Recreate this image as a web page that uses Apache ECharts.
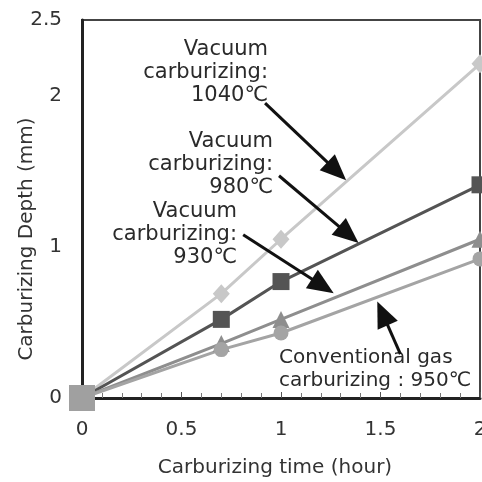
<!DOCTYPE html>
<html>
<head>
<meta charset="utf-8">
<script src="https://cdn.jsdelivr.net/npm/echarts@6.0.0/dist/echarts.min.js"></script>
<style>
  html, body { margin: 0; padding: 0; background: #fff; }
  #chart { width: 482px; height: 482px; }
</style>
</head>
<body>
<div id="chart"></div>
<script>
// 数据
const timeHours = [0, 0.7, 1, 2];
const depthVac1040 = [0, 0.69, 1.05, 2.21];
const depthVac980 = [0, 0.52, 0.77, 1.41];
const depthVac930 = [0, 0.36, 0.52, 1.05];
const depthGas950 = [0, 0.32, 0.43, 0.92];

const yTickLabels = ['0', '', '1', '', '2', '2.5'];

// 注释箭头 (数据坐标), 箭头三角形中心点
const arrowTails = [[0.92, 1.95], [0.99, 1.47], [0.81, 1.08], [1.60, 0.29]];
const arrowTips = [[1.28, 1.50], [1.34, 1.08], [1.21, 0.74], [1.51, 0.56]];

const noteTexts = [
  'Vacuum\ncarburizing:\n1040℃',
  'Vacuum\ncarburizing:\n980℃',
  'Vacuum\ncarburizing:\n930℃',
  'Conventional gas\ncarburizing : 950℃',
];

const FONT = 'DejaVu Sans';

function pairs(ys) {
  return timeHours.map(function (t, i) { return [t, ys[i]]; });
}

function lineSeries(name, ys, color, symbol, size) {
  return {
    name: name,
    type: 'line',
    data: pairs(ys),
    symbol: symbol,
    symbolSize: size,
    showAllSymbol: true,
    lineStyle: { color: color, width: 3 },
    itemStyle: { color: color },
    silent: true,
    animation: false,
  };
}

var myChart = echarts.init(document.getElementById('chart'));

var gasSeries = lineSeries('gas950', depthGas950, '#a4a4a4', 'circle', 15);
// 原点处的大方块
gasSeries.data[0] = {
  value: gasSeries.data[0],
  symbol: 'rect',
  symbolSize: 26,
  itemStyle: { color: '#a0a0a0' },
};

var arrowLines = arrowTails.map(function (tail, i) {
  return [{ coord: tail }, { coord: arrowTips[i] }];
});

var noteStyle = {
  font: '21px "' + FONT + '"',
  fill: '#2a2a2a',
  lineHeight: 23,
};

var option = {
  backgroundColor: '#fff',
  animation: false,
  grid: {
    left: 82, right: 2, top: 20, bottom: 84,
    outerBoundsMode: 'none',
    containLabel: false,
    show: true,
    borderColor: '#444',
    borderWidth: 2,
  },
  xAxis: {
    type: 'value',
    min: 0,
    max: 2,
    interval: 0.5,
    axisLine: { show: true, onZero: false, lineStyle: { color: '#222', width: 3 } },
    axisTick: { show: true, inside: true, length: 6, lineStyle: { color: '#555' } },
    minorTick: { show: true, splitNumber: 5, length: 5, lineStyle: { color: '#777' } },
    splitLine: { show: false },
    axisLabel: {
      margin: 22,
      fontSize: 20,
      fontFamily: FONT,
      color: '#333',
      showMaxLabel: true,
      hideOverlap: false,
      formatter: function (v) { return String(v); },
    },
  },
  yAxis: {
    type: 'value',
    min: 0,
    max: 2.5,
    interval: 0.5,
    axisLine: { show: true, onZero: false, lineStyle: { color: '#222', width: 3 } },
    axisTick: { show: false },
    splitLine: { show: false },
    axisLabel: {
      margin: 20,
      fontSize: 20,
      fontFamily: FONT,
      color: '#333',
      showMaxLabel: true,
      formatter: function (v) { return yTickLabels[Math.round(v / 0.5)]; },
    },
  },
  graphic: [
    { type: 'text', x: 268, y: 38, style: Object.assign({ text: noteTexts[0], textAlign: 'right', textVerticalAlign: 'top' }, noteStyle) },
    { type: 'text', x: 273, y: 130, style: Object.assign({ text: noteTexts[1], textAlign: 'right', textVerticalAlign: 'top' }, noteStyle) },
    { type: 'text', x: 237, y: 200, style: Object.assign({ text: noteTexts[2], textAlign: 'right', textVerticalAlign: 'top' }, noteStyle) },
    { type: 'text', x: 279, y: 346, style: Object.assign({ text: noteTexts[3], textAlign: 'left', textVerticalAlign: 'top' }, noteStyle, { font: '20px "' + FONT + '"' }) },
    {
      type: 'text', x: 275, y: 468,
      style: { text: 'Carburizing time (hour)', font: '20px "' + FONT + '"', fill: '#333', textAlign: 'center', textVerticalAlign: 'middle' },
    },
    {
      type: 'text', x: 27, y: 239, rotation: Math.PI / 2,
      style: { text: 'Carburizing Depth (mm)', font: '20px "' + FONT + '"', fill: '#333', textAlign: 'center', textVerticalAlign: 'middle' },
    },
  ],
  series: [
    lineSeries('vac1040', depthVac1040, '#c8c8c8', 'diamond', [17, 19]),
    lineSeries('vac980', depthVac980, '#545454', 'rect', 17),
    lineSeries('vac930', depthVac930, '#8e8e8e', 'triangle', 17),
    gasSeries,
    {
      name: 'arrows',
      type: 'line',
      data: [],
      z: 5,
      silent: true,
      markLine: {
        silent: true,
        animation: false,
        symbol: ['none', 'triangle'],
        symbolSize: [22, 26],
        label: { show: false },
        lineStyle: { color: '#111', width: 3, type: 'solid' },
        emphasis: { disabled: true },
        data: arrowLines,
      },
    },
  ],
};

myChart.setOption(option);
</script>
</body>
</html>
